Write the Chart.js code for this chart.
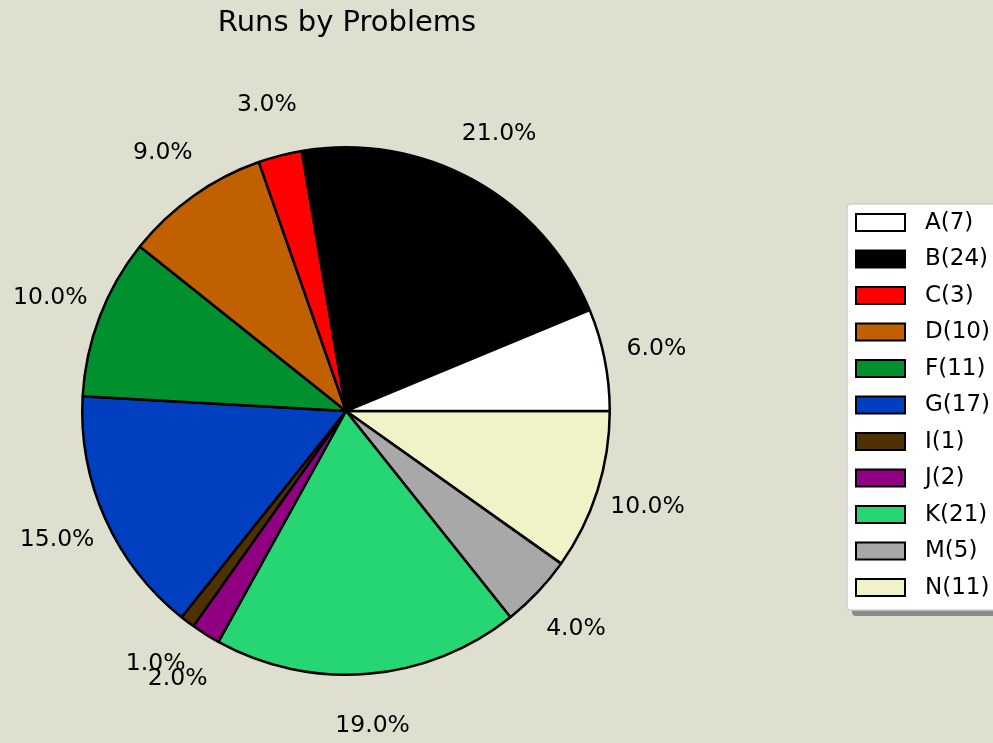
<!DOCTYPE html>
<html><head><meta charset="utf-8">
<script src="https://cdn.jsdelivr.net/npm/chart.js@4"></script>
<style>html,body{margin:0;padding:0;background:#dfdfd0;overflow:hidden}#wrap{width:993px;height:743px}</style>
</head><body><div id="wrap"><canvas id="c" width="993" height="743"></canvas></div>
<script>
const categories = ['A','B','C','D','F','G','I','J','K','M','N'];
const counts = [7,24,3,10,11,17,1,2,21,5,11];
const pctLabels = ['6.0%','21.0%','3.0%','9.0%','10.0%','15.0%','1.0%','2.0%','19.0%','4.0%','10.0%'];
const colors = ['#ffffff','#000000','#ff0000','#c06000','#00902e','#0040c0','#4f3000','#900080','#26d673','#a8a8a8','#f2f2c8'];
const title = 'Runs by Problems';
const FONT = '"DejaVu Sans", sans-serif';

// matplotlib draws counter-clockwise from 3 o'clock; Chart.js clockwise -> reverse
const rev = a => a.slice().reverse();

const overlay = {
  id: 'overlay',
  afterDraw(chart) {
    const ctx = chart.ctx;
    const meta = chart.getDatasetMeta(0);
    const n = categories.length;
    ctx.save();
    // title
    ctx.fillStyle = '#000';
    ctx.font = '29px ' + FONT;
    ctx.textAlign = 'center';
    ctx.textBaseline = 'middle';
    const cx = meta.data[0].x;
    ctx.fillText(title, cx + 1, 23);
    // percent labels
    ctx.font = '23.5px ' + FONT;
    meta.data.forEach((arc, i) => {
      const p = arc.getProps(['x','y','startAngle','endAngle','outerRadius'], true);
      const mid = (p.startAngle + p.endAngle) / 2;
      const r = p.outerRadius * 1.2;
      const idx = n - 1 - i;
      ctx.fillText(pctLabels[idx], p.x + Math.cos(mid) * r, p.y + Math.sin(mid) * r);
    });
    // legend
    const lx = 847, ly = 204, lw = 170, lh = 406;
    ctx.fillStyle = '#8a8a8a';
    roundRect(ctx, lx + 5, ly + 6, lw, lh, 4); ctx.fill();
    ctx.fillStyle = '#ffffff';
    ctx.strokeStyle = '#cfcfcf';
    ctx.lineWidth = 1.5;
    roundRect(ctx, lx, ly, lw, lh, 4); ctx.fill(); ctx.stroke();
    ctx.textAlign = 'left';
    ctx.font = '23px ' + FONT;
    for (let k = 0; k < n; k++) {
      const y = 214 + k * 36.5;
      ctx.fillStyle = colors[k];
      ctx.fillRect(856, y, 49, 17);
      ctx.strokeStyle = '#000';
      ctx.lineWidth = 2;
      ctx.strokeRect(856, y, 49, 17);
      ctx.fillStyle = '#000';
      ctx.fillText(categories[k] + '(' + counts[k] + ')', 925, y + 9);
    }
    ctx.restore();
  }
};
function roundRect(ctx, x, y, w, h, r) {
  ctx.beginPath();
  ctx.moveTo(x + r, y);
  ctx.lineTo(x + w - r, y); ctx.quadraticCurveTo(x + w, y, x + w, y + r);
  ctx.lineTo(x + w, y + h - r); ctx.quadraticCurveTo(x + w, y + h, x + w - r, y + h);
  ctx.lineTo(x + r, y + h); ctx.quadraticCurveTo(x, y + h, x, y + h - r);
  ctx.lineTo(x, y + r); ctx.quadraticCurveTo(x, y, x + r, y);
  ctx.closePath();
}

new Chart(document.getElementById('c'), {
  type: 'pie',
  data: {
    labels: rev(categories),
    datasets: [{
      data: rev(counts),
      backgroundColor: rev(colors),
      borderColor: '#000000',
      borderWidth: 2.5,
      hoverOffset: 0
    }]
  },
  options: {
    responsive: false,
    devicePixelRatio: 1,
    animation: false,
    rotation: 90,
    layout: { padding: { left: 81, right: 382, top: 146, bottom: 67 } },
    plugins: { legend: { display: false }, title: { display: false }, tooltip: { enabled: false } }
  },
  plugins: [overlay]
});
</script></body></html>
